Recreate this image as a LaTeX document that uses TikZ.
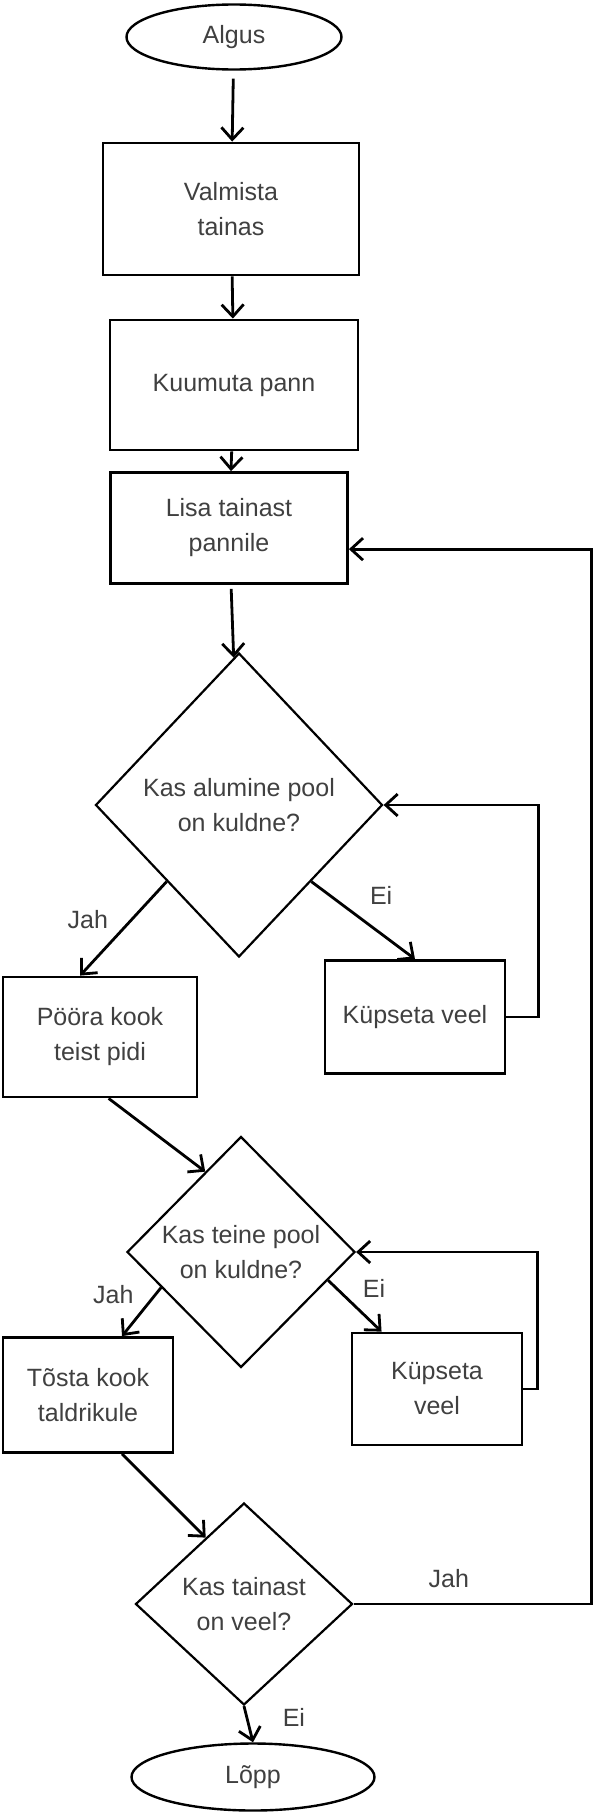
\documentclass[tikz,border=0pt]{standalone}
\usepackage{fontspec}
\usepackage{xcolor}
\setmainfont{Liberation Sans}
\usetikzlibrary{shapes.geometric,arrows.meta}
\definecolor{inkgray}{HTML}{404040}

\begin{document}
\begin{tikzpicture}[x=0.5pt,y=-0.5pt,
  font=\fontsize{12.5}{17.5}\selectfont,
  stepbox/.style={rectangle, draw=black, line width=1.4pt, text=inkgray, align=center, inner sep=2pt},
  termnode/.style={ellipse, draw=black, line width=1.2pt, text=inkgray},
  decision/.style={diamond, draw=black, line width=1.1pt, text=inkgray, align=center, inner sep=0pt},
  arr/.style={-{Straight Barb[length=6pt,width=11pt]}, line width=1.4pt},
  lbl/.style={text=inkgray}]
            \path[use as bounding box, fill=white] (0,0) rectangle (600,1814);

            \node[termnode, minimum width=107.5pt, minimum height=32.5pt] (start) at (234,37) {Algus};
            \node[stepbox, minimum width=128pt, minimum height=66pt] (prep) at (231,209) {Valmista\\tainas};
            \node[stepbox, minimum width=124pt, minimum height=65pt] (heat) at (234,385) {Kuumuta pann};
            \node[stepbox, minimum width=118.5pt, minimum height=55.5pt] (pour) at (229,528) {Lisa tainast\\pannile};
            \node[decision, minimum width=143.5pt, minimum height=152pt] (d1) at (239,805) {Kas alumine pool\\on kuldne?};
            \node[stepbox, minimum width=97pt, minimum height=60pt] (flip) at (100,1037) {Pööra kook\\teist pidi};
            \node[stepbox, minimum width=90pt, minimum height=56.5pt] (cook1) at (415,1017) {Küpseta veel};
            \node[decision, minimum width=114pt, minimum height=115.5pt] (d2) at (241,1252) {Kas teine pool\\on kuldne?};
            \node[stepbox, minimum width=85pt, minimum height=57.5pt] (plate) at (88,1395) {Tõsta kook\\taldrikule};
            \node[stepbox, minimum width=85pt, minimum height=56pt] (cook2) at (437,1389) {Küpseta\\veel};
            \node[decision, minimum width=108.5pt, minimum height=101pt] (d3) at (244,1604) {Kas tainast\\on veel?};
            \node[termnode, minimum width=121.5pt, minimum height=33.5pt] (stop) at (253,1777) {Lõpp};

            \draw[arr, shorten <=4pt] (start) -- (prep);
            \draw[arr] (prep) -- (heat);
            \draw[arr] (heat) -- (pour);
            \draw[arr, shorten <=2pt] (pour) -- (d1);

            \draw[arr] (d1.south west) -- node[lbl, pos=0.4, left=8pt] {Jah} (flip.108);
            \draw[arr] (d1.south east) -- node[lbl, pos=0.45, above right=2pt] {Ei} (cook1.north);
            \draw[arr] (cook1.east) -- ++(32,0) |- (d1.east);

            \draw[arr] (flip.-82) -- (d2.114);
            \draw[arr] (d2.204) -- node[lbl, above left] {Jah} (plate.60);
            \draw[arr] (d2.-18) -- node[lbl, above right] {Ei} (cook2.134);
            \draw[arr] (cook2.east) -- ++(14,0) |- (d2.east);

            \draw[arr] (plate.-60) -- (d3.120);
            \draw[arr] (d3.south) -- node[lbl, pos=0.3, right=14pt] {Ei} (stop.north);
            \draw[arr] (d3.east) -- node[lbl, pos=0.4, above=4pt] {Jah} ++(238,0) |- (pour.-10);

\end{tikzpicture}
\end{document}
